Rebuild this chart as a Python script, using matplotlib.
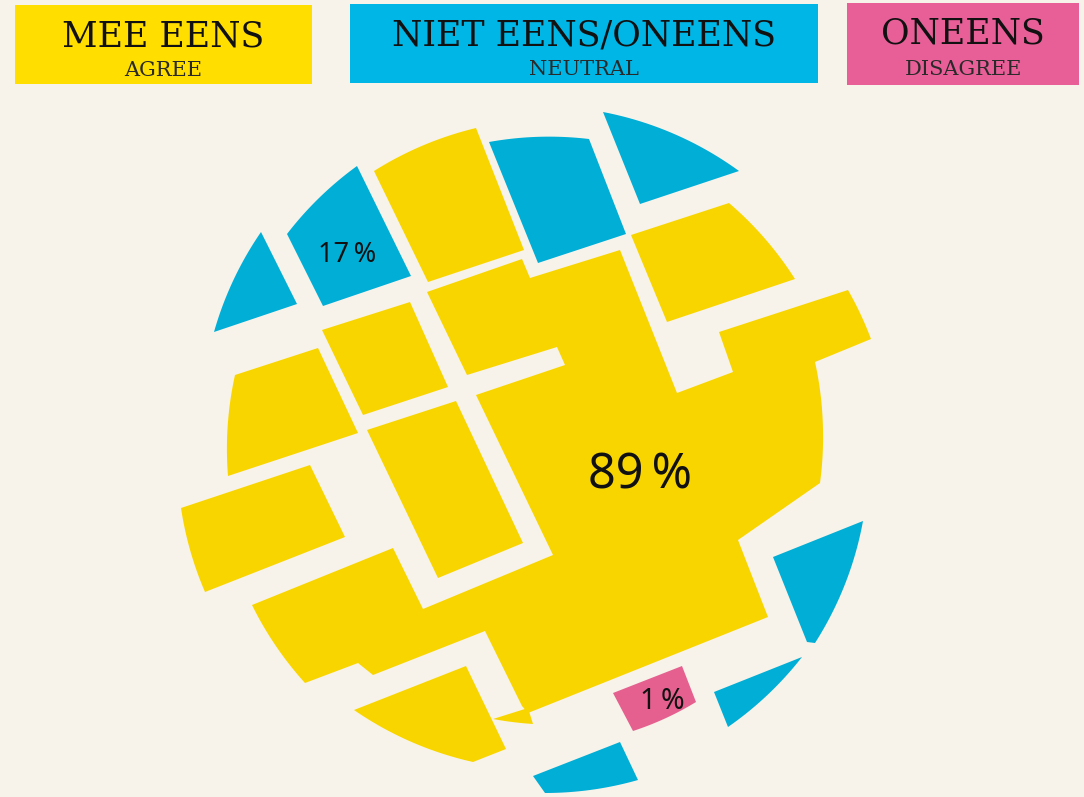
import numpy as np
import matplotlib
matplotlib.use("Agg")
import matplotlib.pyplot as plt
from matplotlib.patches import Polygon, Rectangle

# ---- data ----
categories = ["MEE EENS", "NIET EENS/ONEENS", "ONEENS"]
subtitles = ["AGREE", "NEUTRAL", "DISAGREE"]
percentages = [89, 17, 1]          # agree, neutral, disagree labels
colors = ["#F9D500", "#00AED6", "#E5608F"]
header_colors = ["#FFDE00", "#00B6E6", "#E85F98"]
BG = "#F7F3EA"

# ---- decorative map geometry (pixel space, y downwards) ----
C0 = np.array([525.0, 455.0])


def arc(P, Q, R=340.0, n=24):
    P = np.asarray(P, float); Q = np.asarray(Q, float)
    M = (P + Q) / 2
    h = np.linalg.norm(Q - P) / 2
    d = (Q - P) / (2 * h)
    nrm = np.array([-d[1], d[0]])
    if np.dot(C0 - M, nrm) < 0:
        nrm = -nrm
    c = M + nrm * np.sqrt(max(R * R - h * h, 0))
    a1 = np.arctan2(*(P - c)[::-1]); a2 = np.arctan2(*(Q - c)[::-1])
    da = (a2 - a1 + np.pi) % (2 * np.pi) - np.pi
    t = np.linspace(0, 1, n)[1:]
    return [tuple(c + R * np.array([np.cos(a1 + da * s), np.sin(a1 + da * s)])) for s in t]


def shape(items):
    pts = []
    for it in items:
        if it[0] == "arc":
            _, Q, R = it
            pts += arc(pts[-1], Q, R)
        else:
            pts.append(it)
    return pts


agree_shapes = [
    # main block (89%)
    shape([(427, 292), (522, 259), (530, 278), (620, 250), (677, 393), (733, 372), (719, 332),
           (848, 290), ("arc", (871, 339), 340), (815, 362), ("arc", (823, 430), 340),
           ("arc", (820, 483), 340), (738, 540), (768, 617), (528, 713), (522, 706),
           (485, 631), (373, 675), (358, 663), (305, 683), ("arc", (252, 605), 340),
           (393, 548), (423, 609), (553, 555), (476, 395), (565, 365), (557, 347), (467, 375)]),
    shape([(374, 171), ("arc", (476, 128), 340), (524, 250), (428, 282)]),
    shape([(631, 235), (729, 203), ("arc", (795, 279), 340), (667, 322)]),
    shape([(322, 330), (410, 302), (448, 387), (363, 415)]),
    shape([(367, 430), (456, 401), (523, 543), (438, 578)]),
    shape([(228, 476), ("arc", (235, 375), 340), (318, 348), (358, 433)]),
    shape([(205, 592), ("arc", (181, 508), 340), (310, 465), (345, 537)]),
    shape([(354, 710), (466, 666), (506, 749), (473, 762), ("arc", (354, 710), 340)]),
    shape([(493, 719), (528, 708), (533, 724), ("arc", (493, 719), 340)]),
]
neutral_shapes = [
    shape([(261, 232), (297, 304), (214, 332), ("arc", (261, 232), 340)]),
    shape([(287, 234), ("arc", (357, 166), 340), (411, 276), (323, 306)]),
    shape([(489, 142), ("arc", (589, 139), 340), (626, 234), (538, 263)]),
    shape([(603, 112), ("arc", (739, 171), 340), (640, 204)]),
    shape([(773, 557), (863, 521), ("arc", (815, 643), 340), (807, 642)]),
    shape([(714, 692), (802, 657), ("arc", (728, 727), 340)]),
    shape([(533, 776), (620, 742), (638, 780), ("arc", (545, 793), 340)]),
]
disagree_shapes = [
    shape([(613, 693), (682, 666), (696, 702), ("arc", (633, 731), 300)]),
]

label_pos = [(640, 488, 35), (347, 262, 19.5), (662, 709, 20.5)]

# ---- draw ----
fig = plt.figure(figsize=(10.84, 7.97), dpi=100, facecolor=BG)
ax = fig.add_axes([0, 0, 1, 1])
ax.set_xlim(0, 1084)
ax.set_ylim(797, 0)
ax.set_facecolor(BG)
ax.axis("off")

for shapes, col in zip([agree_shapes, neutral_shapes, disagree_shapes], colors):
    for pts in shapes:
        ax.add_patch(Polygon(pts, closed=True, facecolor=col, edgecolor="none"))

for p, (x, y, fs) in zip(percentages, label_pos):
    ax.text(x, y, f"{p}\u2009%", ha="center", va="baseline", fontsize=fs,
            family=["Noto Sans", "DejaVu Sans"], color="#111111")

# header boxes
boxes = [(15, 5, 312, 84), (350, 4, 818, 83), (847, 3, 1079, 85)]
title_base = [46, 45, 43]
sub_base = [76, 75, 75]
for (x0, y0, x1, y1), col, t, s, tb, sb in zip(boxes, header_colors, categories, subtitles,
                                               title_base, sub_base):
    ax.add_patch(Rectangle((x0, y0), x1 - x0, y1 - y0, facecolor=col, edgecolor="none"))
    cx = (x0 + x1) / 2
    ax.text(cx, tb, t, ha="center", va="baseline", fontsize=25, family="DejaVu Serif",
            color="#111111")
    ax.text(cx, sb, s, ha="center", va="baseline", fontsize=15, family="DejaVu Serif",
            color="#2a2a2a")

fig.savefig("out.png", dpi=100, facecolor=BG)
